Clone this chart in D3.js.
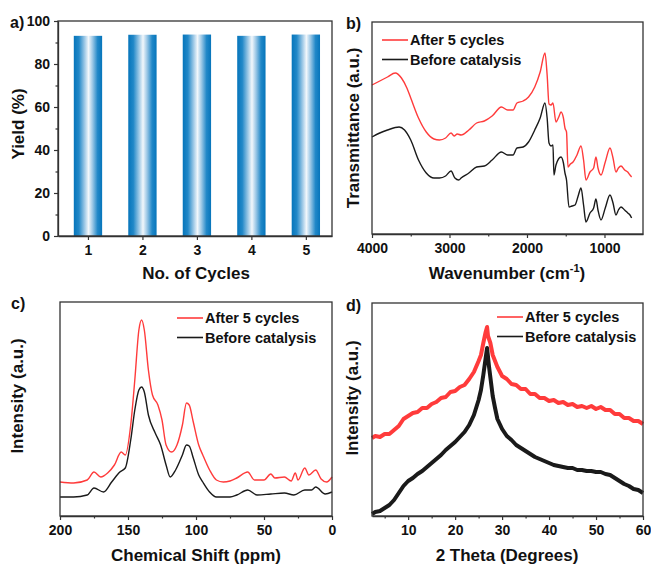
<!DOCTYPE html>
<html>
<head>
<meta charset="utf-8">
<script src="https://cdn.jsdelivr.net/npm/d3@7"></script>
<style>
  body { margin: 0; background: #fff; }
  svg text { font-family: "Liberation Sans", Arial, sans-serif; font-weight: bold; fill: #111; }
</style>
</head>
<body>
<div id="chart"></div>
<script>
// ---- data ----
const cycles = [1, 2, 3, 4, 5];
const yields = [93.1, 93.6, 93.7, 93.1, 93.7];

// FTIR, wavenumber vs transmittance (arbitrary units)
const ftirAfter = [
  [4000,149],[3900,153],[3800,157],[3700,161],[3620,156],[3550,146],[3500,136],[3400,116],[3300,102],
  [3200,95],[3130,94],[3050,96],[2980,101],[2940,98],[2900,100],[2850,99],[2750,104],[2650,111],
  [2550,113],[2450,118],[2330,127],[2250,124],[2180,124],[2130,131],[2050,133],[1980,137],[1900,147],
  [1830,162],[1768,181],[1740,159],[1716,130],[1690,129],[1665,131],[1626,112],[1590,117],[1561,122],
  [1530,116],[1510,106],[1490,102],[1471,67],[1440,70],[1406,72],[1355,79],[1303,88],[1270,74],
  [1239,54],[1187,62],[1140,66],[1110,77],[1084,66],[1045,59],[990,72],[929,86],[890,76],[852,62],
  [820,66],[787,68],[740,64],[700,62],[671,59],[650,57]
];
const ftirBefore = [
  [4000,97],[3900,101],[3800,104],[3650,107],[3580,104],[3500,94],[3400,74],[3300,61],[3200,56],
  [3130,56],[3050,58],[2980,63],[2930,56],[2880,54],[2850,56],[2750,61],[2650,67],[2550,68],
  [2450,74],[2330,82],[2250,79],[2180,79],[2130,86],[2050,87],[1980,92],[1900,104],[1830,116],
  [1768,131],[1740,116],[1716,91],[1690,88],[1665,89],[1652,59],[1626,69],[1561,77],[1530,71],
  [1510,61],[1490,54],[1458,27],[1420,28],[1380,29],[1340,38],[1303,46],[1270,29],[1239,12],
  [1187,21],[1140,26],[1110,35],[1084,24],[1045,14],[990,26],[929,39],[890,31],[852,19],[820,24],
  [787,27],[740,24],[700,21],[671,19],[650,16]
];

// 13C NMR, ppm vs intensity
const nmrAfter = [
  [200,34],[190,33],[180,36],[175,44],[170,39],[165,43],[160,51],[155,64],[152,61],[148,91],[145,136],
  [142,186],[140,196],[138,186],[135,146],[132,121],[128,111],[125,96],[122,71],[118,64],[114,71],
  [110,91],[107,113],[105,111],[102,94],[98,71],[95,61],[90,46],[85,36],[80,34],[75,35],[70,38],
  [62,44],[57,36],[50,36],[45,42],[42,38],[35,39],[30,35],[27,43],[25,36],[20,48],[17,41],[12,46],
  [8,37],[4,34],[0,39]
];
const nmrBefore = [
  [200,19],[190,19],[180,21],[175,28],[168,24],[162,34],[156,44],[152,48],[148,76],[145,106],
  [142,126],[140,129],[138,124],[135,101],[130,83],[126,71],[122,51],[119,39],[115,46],[110,61],
  [107,71],[105,70],[102,58],[98,41],[95,34],[90,24],[85,19],[75,19],[70,21],[62,26],[55,21],
  [45,22],[35,23],[28,21],[20,26],[15,26],[12,29],[5,22],[0,24]
];

// PXRD, 2 theta vs intensity
const xrdAfter = [
  [2.3,78],[3,80],[4,79],[5,82],[6,82],[7,86],[8,90],[9,97],[10,100],[11,103],[12,104],[13,108],
  [14,108],[15,112],[16,114],[17,118],[18,119],[19,124],[20,125],[21,129],[22,131],[23,137],
  [24,144],[25,155],[25.5,161],[26,173],[26.5,184],[26.8,189],[27,180],[27.5,173],[28,161],
  [29,149],[30,140],[31,137],[32,132],[33,131],[34,127],[35,127],[36,122],[37,122],[38,118],
  [39,118],[40,115],[41,116],[42,113],[43,114],[44,111],[45,112],[46,109],[47,110],[48,108],
  [49,110],[50,107],[51,109],[52,106],[53,106],[54,102],[55,102],[56,98],[57,98],[58,95],[59,95],[60,92]
];
const xrdBefore = [
  [2.3,2],[3,4],[4,5],[5,8],[6,11],[7,16],[8,23],[9,30],[10,35],[11,38],[12,42],[13,45],[14,49],
  [15,53],[16,57],[17,61],[18,66],[19,70],[20,74],[21,79],[22,84],[23,91],[24,101],[25,116],
  [25.5,126],[26,141],[26.5,158],[26.8,168],[27.2,150],[27.6,135],[28,120],[28.5,108],[29,97],
  [30,87],[31,80],[32,76],[33,71],[34,68],[35,65],[36,62],[37,59],[38,57],[39,55],[40,53],[41,51],
  [42,50],[43,49],[44,48],[45,48],[46,46],[47,46],[48,45],[49,45],[50,44],[51,44],[52,42],[53,41],
  [54,38],[55,35],[56,32],[57,30],[58,27],[59,26],[60,23]
];

const legendNames = ["After 5 cycles", "Before catalysis"];
const RED = "#ff3b3b", BLACK = "#1a1a1a", AXIS = "#333";
const fmtInt = d3.format("d");

const svg = d3.select("#chart").append("svg")
  .attr("width", 651).attr("height", 565)
  .attr("viewBox", [0, 0, 651, 565]);

svg.append("rect").attr("width", 651).attr("height", 565).attr("fill", "#fff");

// bar gradient
const grad = svg.append("defs").append("linearGradient")
  .attr("id", "barGrad").attr("x1", "0%").attr("x2", "100%").attr("y1", "0%").attr("y2", "0%");
[[0, "#0675bb"], [0.18, "#2188c8"], [0.38, "#9cc8e6"], [0.52, "#f2f7fb"], [0.66, "#9cc8e6"], [0.84, "#2188c8"], [1, "#0675bb"]]
  .forEach(s => grad.append("stop").attr("offset", s[0]).attr("stop-color", s[1]));

// draw a framed panel: bottom axis with ticks, left axis, top/right border
function frame(box, x, xTicks, xMinor, y, yTicks, yMinor) {
  const g = svg.append("g");
  g.append("g").attr("transform", `translate(0,${box.y1})`)
    .call(d3.axisBottom(x).tickValues(xTicks).tickFormat(fmtInt).tickSize(4).tickSizeOuter(0).tickPadding(5));
  if (xMinor) {
    g.append("g").attr("transform", `translate(0,${box.y1})`)
      .call(d3.axisBottom(x).tickValues(xMinor).tickSize(2.5).tickFormat(""))
      .select(".domain").remove();
  }
  if (yTicks) {
    g.append("g").attr("transform", `translate(${box.x0},0)`)
      .call(d3.axisLeft(y).tickValues(yTicks).tickFormat(fmtInt).tickSize(4).tickSizeOuter(0).tickPadding(4));
    g.append("g").attr("transform", `translate(${box.x0},0)`)
      .call(d3.axisLeft(y).tickValues(yMinor).tickSize(2.5).tickFormat(""))
      .select(".domain").remove();
  }
  g.append("rect")
    .attr("x", box.x0).attr("y", box.y0)
    .attr("width", box.x1 - box.x0).attr("height", box.y1 - box.y0)
    .attr("fill", "none").attr("stroke", AXIS).attr("stroke-width", 1.3);
  g.selectAll(".domain").attr("stroke", AXIS).attr("stroke-width", 1.3);
  g.selectAll(".tick line").attr("stroke", AXIS).attr("stroke-width", 1.2);
  g.selectAll(".tick text").style("font-size", "14px").style("font-family", '"Liberation Sans", Arial, sans-serif')
    .style("font-weight", "bold").attr("fill", "#111");
  return g;
}

function title(txt, x, y, rotate, size) {
  return svg.append("text")
    .attr("text-anchor", "middle")
    .style("font-size", (size || 17) + "px")
    .attr("transform", rotate ? `translate(${x},${y}) rotate(-90)` : `translate(${x},${y})`)
    .text(txt);
}

function legend(x, y) {
  [RED, BLACK].forEach((c, i) => {
    const yy = y + i * 19.5;
    svg.append("line").attr("x1", x).attr("x2", x + 26).attr("y1", yy).attr("y2", yy)
      .attr("stroke", c).attr("stroke-width", 1.6);
    svg.append("text").attr("x", x + 28).attr("y", yy + 5).style("font-size", "14.5px").text(legendNames[i]);
  });
}

// ---- a) yield bars ----
{
  const box = { x0: 58, x1: 332, y0: 21, y1: 236 };
  const x = d3.scaleLinear().domain([0.45, 5.48]).range([box.x0, box.x1]);
  const y = d3.scaleLinear().domain([0, 100]).range([box.y1, box.y0]);
  const bw = x(1.52) - x(1);
  svg.append("g").selectAll("rect").data(cycles).join("rect")
    .attr("x", d => x(d) - bw / 2)
    .attr("y", (d, i) => y(yields[i]))
    .attr("width", bw)
    .attr("height", (d, i) => y(0) - y(yields[i]))
    .attr("fill", "url(#barGrad)");
  frame(box, x, cycles, null, y, [0, 20, 40, 60, 80, 100], [10, 30, 50, 70, 90]);
  title("Yield (%)", 24, 124, true);
  title("No. of Cycles", 196, 279);
  svg.append("text").attr("x", 10).attr("y", 28).style("font-size", "16px").text("a)");
}

// ---- b) FTIR ----
{
  const box = { x0: 372, x1: 643, y0: 22, y1: 234 };
  const x = d3.scaleLinear().domain([4000, 503]).range([box.x0, box.x1]);
  const y = d3.scaleLinear().domain([0, 212]).range([box.y1, box.y0]);
  const line = d3.line().x(d => x(d[0])).y(d => y(d[1])).curve(d3.curveMonotoneX);
  [[ftirAfter, RED], [ftirBefore, BLACK]].forEach(([data, c]) => {
    svg.append("path").datum(data).attr("d", line)
      .attr("fill", "none").attr("stroke", c).attr("stroke-width", 1.4).attr("stroke-linejoin", "round");
  });
  frame(box, x, [4000, 3000, 2000, 1000], [3500, 2500, 1500], y, null);
  legend(382, 40);
  title("Transmittance (a.u.)", 359, 128, true);
  const t = title("Wavenumber (cm", 507, 279);
  t.append("tspan").attr("dy", -7).style("font-size", "11px").text("-1");
  t.append("tspan").attr("dy", 7).text(")");
  svg.append("text").attr("x", 346).attr("y", 29).style("font-size", "16px").text("b)");
}

// ---- c) NMR ----
{
  const box = { x0: 60, x1: 332, y0: 302, y1: 516 };
  const x = d3.scaleLinear().domain([200, 0]).range([box.x0, box.x1]);
  const y = d3.scaleLinear().domain([0, 214]).range([box.y1, box.y0]);
  const line = d3.line().x(d => x(d[0])).y(d => y(d[1])).curve(d3.curveMonotoneX);
  [[nmrAfter, RED], [nmrBefore, BLACK]].forEach(([data, c]) => {
    svg.append("path").datum(data).attr("d", line)
      .attr("fill", "none").attr("stroke", c).attr("stroke-width", 1.4).attr("stroke-linejoin", "round");
  });
  frame(box, x, [200, 150, 100, 50, 0], [175, 125, 75, 25], y, null);
  legend(177, 318);
  title("Intensity (a.u.)", 23, 396, true);
  title("Chemical Shift (ppm)", 196, 561);
  svg.append("text").attr("x", 11).attr("y", 309).style("font-size", "16px").text("c)");
}

// ---- d) PXRD ----
{
  const box = { x0: 372, x1: 643, y0: 303, y1: 516 };
  const x = d3.scaleLinear().domain([2.3, 60]).range([box.x0, box.x1]);
  const y = d3.scaleLinear().domain([0, 213]).range([box.y1, box.y0]);
  const line = d3.line().x(d => x(d[0])).y(d => y(d[1]));
  [[xrdAfter, RED], [xrdBefore, BLACK]].forEach(([data, c]) => {
    svg.append("path").datum(data).attr("d", line)
      .attr("fill", "none").attr("stroke", c).attr("stroke-width", 4).attr("stroke-linejoin", "round");
  });
  frame(box, x, [10, 20, 30, 40, 50, 60], [5, 15, 25, 35, 45, 55], y, null);
  legend(497, 317);
  title("Intensity (a.u.)", 358, 398, true);
  title("2 Theta (Degrees)", 507, 561);
  svg.append("text").attr("x", 346).attr("y", 311).style("font-size", "16px").text("d)");
}
</script>
</body>
</html>
